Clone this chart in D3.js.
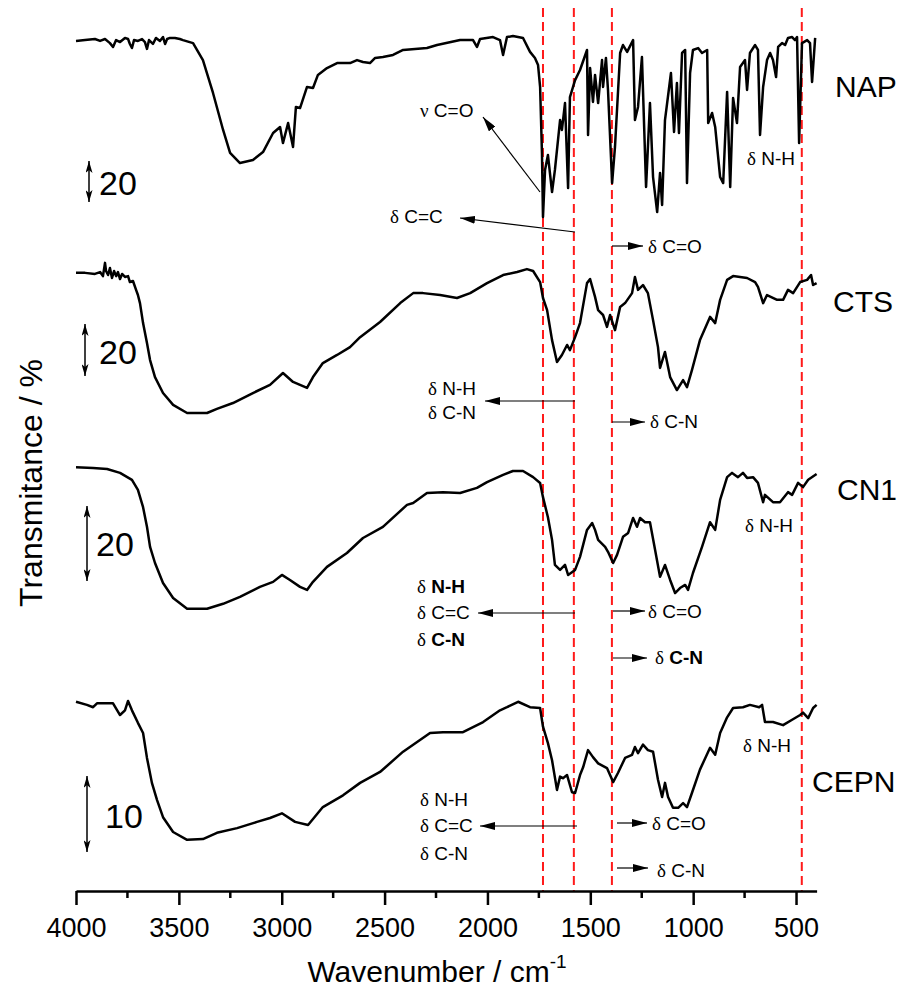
<!DOCTYPE html>
<html>
<head>
<meta charset="utf-8">
<script src="https://cdn.jsdelivr.net/npm/d3@7"></script>
<style>
  body { margin: 0; background: #fff; }
  svg text { font-family: "Liberation Sans", Arial, sans-serif; fill: #000; }
  .greek { font-family: "Liberation Serif", "Times New Roman", serif; }
</style>
</head>
<body>
<svg id="chart" width="905" height="992"></svg>
<script>
// FTIR spectra, [wavenumber cm-1, transmittance %]
const NAP = [
  [4000,87.0],[3956,87.4],[3908,87.9],[3883,87.0],[3859,87.9],[3835,86.0],[3820,84.2],[3805,87.4],
  [3786,86.5],[3762,88.4],[3747,87.9],[3738,85.6],[3728,83.7],[3718,87.4],[3699,87.0],[3679,87.9],
  [3665,86.5],[3655,83.3],[3645,87.4],[3626,85.6],[3611,88.4],[3592,87.0],[3577,88.8],[3567,85.6],
  [3557,87.9],[3543,88.4],[3519,88.4],[3495,87.9],[3480,87.4],[3431,86.0],[3383,78.1],[3334,62.8],
  [3285,45.6],[3251,34.9],[3203,30.2],[3140,31.6],[3091,35.3],[3042,44.2],[3008,47.0],[2994,39.5],
  [2969,48.8],[2945,37.7],[2931,56.3],[2911,55.8],[2877,65.6],[2848,65.1],[2824,71.2],[2780,74.4],
  [2731,76.7],[2668,76.7],[2634,78.1],[2605,77.2],[2571,76.7],[2546,79.1],[2508,79.5],[2459,80.5],
  [2410,82.8],[2294,83.7],[2245,85.1],[2133,87.4],[2070,87.4],[2051,84.2],[2036,87.9],[1973,88.8],
  [1939,87.4],[1924,80.5],[1905,88.8],[1876,89.3],[1827,88.4],[1793,81.9],[1769,79.1],[1754,75.8],
  [1744,65.6],[1735,34.9],[1730,5.1],[1720,27.0],[1706,34.0],[1686,16.7],[1672,27.0],[1647,50.2],
  [1638,45.6],[1623,58.1],[1608,18.6],[1599,60.9],[1574,68.8],[1550,73.5],[1516,82.8],[1511,43.3],
  [1501,74.4],[1487,58.6],[1477,71.2],[1462,58.1],[1443,78.1],[1438,65.6],[1424,79.1],[1414,64.2],
  [1394,20.9],[1380,37.7],[1355,81.4],[1341,85.1],[1321,81.9],[1292,87.4],[1283,50.2],[1268,56.3],
  [1249,79.5],[1229,19.1],[1210,58.1],[1195,23.7],[1175,7.4],[1161,25.6],[1151,10.7],[1137,50.2],
  [1108,72.1],[1093,44.7],[1079,67.4],[1069,44.2],[1054,81.4],[1039,82.8],[1030,20.9],[1015,72.1],
  [1001,82.8],[976,83.7],[957,81.4],[932,82.8],[927,48.8],[908,53.5],[893,47.0],[869,23.7],
  [854,20.9],[835,63.3],[820,19.1],[806,60.5],[787,48.8],[772,74.9],[748,78.1],[738,64.2],
  [724,81.4],[699,85.1],[685,82.8],[675,43.3],[660,65.6],[641,78.1],[626,81.4],[612,78.1],
  [597,70.2],[587,84.2],[568,86.0],[553,85.1],[539,88.4],[519,88.8],[505,87.4],[495,88.8],
  [485,39.5],[471,86.0],[446,87.4],[432,86.0],[422,67.9],[407,88.4]
];

const CTS = [
  [4000,61.9],[3956,61.9],[3908,61.5],[3883,62.2],[3869,60.7],[3859,65.6],[3854,62.6],[3844,61.1],
  [3835,63.7],[3825,60.0],[3815,62.6],[3805,60.7],[3796,62.2],[3786,59.6],[3776,61.5],[3762,60.4],
  [3747,60.7],[3738,58.5],[3723,58.9],[3708,55.6],[3699,53.7],[3689,50.7],[3674,43.3],[3655,35.9],
  [3640,29.6],[3616,23.3],[3577,17.4],[3528,13.0],[3460,10.0],[3363,10.0],[3315,11.5],[3237,13.7],
  [3140,17.4],[3057,20.4],[2994,24.8],[2945,21.5],[2877,19.3],[2848,23.3],[2800,28.5],[2731,31.5],
  [2668,34.4],[2619,38.1],[2522,43.7],[2424,50.7],[2361,54.4],[2313,54.4],[2230,53.7],[2148,52.6],
  [2084,54.4],[2002,58.1],[1924,61.1],[1856,62.2],[1808,63.3],[1778,62.6],[1744,58.5],[1730,52.6],
  [1710,48.1],[1686,37.0],[1662,28.9],[1638,31.5],[1613,35.2],[1599,33.3],[1574,38.1],[1550,43.3],
  [1516,58.1],[1501,59.6],[1477,53.0],[1462,48.1],[1438,46.3],[1419,41.9],[1404,46.3],[1380,40.7],
  [1355,49.3],[1331,50.7],[1297,54.4],[1283,60.4],[1268,55.6],[1244,57.4],[1220,54.4],[1195,44.4],
  [1171,34.4],[1161,26.7],[1137,32.6],[1112,23.3],[1079,18.5],[1049,22.2],[1030,19.6],[1006,25.9],
  [967,37.0],[918,45.6],[893,43.3],[869,51.9],[835,59.3],[806,60.7],[738,60.0],[699,58.5],
  [685,56.7],[660,50.7],[641,53.7],[592,51.9],[563,51.9],[539,55.6],[514,54.4],[480,58.5],
  [446,59.3],[427,61.1],[417,57.4],[400,58.1]
];

const CN1 = [
  [4000,44.9],[3917,44.7],[3849,44.4],[3786,43.4],[3728,41.6],[3699,39.0],[3674,34.5],[3655,29.4],
  [3640,24.2],[3616,20.0],[3577,14.8],[3528,10.9],[3460,8.1],[3363,8.1],[3285,9.4],[3203,11.2],
  [3106,13.8],[3042,15.1],[2999,16.9],[2960,15.6],[2911,13.8],[2877,13.0],[2848,15.1],[2780,19.0],
  [2683,22.6],[2605,26.5],[2508,29.4],[2391,35.1],[2361,35.6],[2294,38.2],[2216,38.4],[2133,38.2],
  [2051,39.5],[2002,41.0],[1924,42.9],[1876,43.9],[1827,43.9],[1778,42.3],[1744,40.8],[1730,37.1],
  [1706,31.9],[1686,26.0],[1672,19.5],[1647,18.2],[1623,19.5],[1608,16.9],[1574,18.2],[1550,21.6],
  [1516,28.6],[1491,30.4],[1477,28.6],[1462,26.0],[1428,24.2],[1414,22.9],[1389,20.0],[1370,22.1],
  [1341,26.8],[1316,27.8],[1292,31.7],[1273,29.4],[1258,31.7],[1234,30.6],[1210,30.6],[1185,23.4],
  [1161,16.4],[1137,19.5],[1112,15.6],[1088,12.2],[1064,13.5],[1039,14.3],[1025,13.0],[1001,17.4],
  [957,24.2],[918,30.6],[893,28.6],[869,36.4],[835,42.3],[811,43.4],[782,42.3],[758,43.4],
  [738,42.1],[709,42.3],[685,40.8],[660,35.8],[651,37.7],[612,35.8],[578,35.8],[539,38.4],
  [519,37.7],[490,40.8],[466,39.7],[441,41.6],[400,43.1]
];

const CEPN = [
  [4000,20.8],[3947,20.4],[3917,20.1],[3898,20.6],[3869,20.6],[3820,20.6],[3786,19.1],[3762,19.7],
  [3747,20.9],[3728,19.7],[3699,18.1],[3674,16.8],[3655,13.6],[3631,10.4],[3606,8.2],[3577,6.0],
  [3528,4.1],[3460,3.1],[3383,3.2],[3315,4.0],[3217,4.6],[3120,5.4],[3057,5.9],[2999,6.5],
  [2935,5.4],[2872,5.0],[2800,7.3],[2702,8.8],[2619,10.4],[2522,11.8],[2410,14.4],[2279,16.8],
  [2216,16.9],[2119,16.9],[2021,18.2],[1939,19.7],[1905,20.1],[1851,20.8],[1793,20.1],[1744,20.0],
  [1730,17.6],[1706,15.5],[1686,13.3],[1662,9.5],[1647,11.2],[1633,11.0],[1613,11.4],[1589,9.2],
  [1574,9.1],[1550,11.4],[1535,12.4],[1511,14.6],[1487,13.7],[1462,12.9],[1419,12.3],[1389,10.5],
  [1365,11.7],[1331,13.6],[1297,14.0],[1283,15.0],[1268,14.2],[1244,15.3],[1220,14.6],[1195,14.4],
  [1171,10.8],[1151,8.6],[1137,10.4],[1122,8.6],[1098,7.2],[1073,7.2],[1049,7.8],[1030,7.3],
  [1006,9.1],[967,12.1],[918,14.9],[893,14.0],[869,16.8],[835,18.8],[806,20.0],[758,20.1],
  [724,20.4],[679,20.1],[665,20.4],[651,18.2],[612,18.2],[563,17.8],[519,18.5],[480,19.1],
  [466,19.4],[441,18.7],[417,20.0],[400,20.4]
];

const sampleNames = ["NAP", "CTS", "CN1", "CEPN"];
const scaleBarValues = [20, 20, 20, 10];
const bandMarkers = [1730, 1580, 1395, 472];   // red dashed guide lines, cm-1
const majorTicks = [4000, 3500, 3000, 2500, 2000, 1500, 1000, 500];
const minorTicks = [3750, 3250, 2750, 2250, 1750, 1250, 750];

const W = 905, H = 992;
const axisY = 891;

const svg = d3.select("#chart");

const defs = svg.append("defs");
defs.append("marker")
  .attr("id", "head")
  .attr("markerUnits", "userSpaceOnUse")
  .attr("viewBox", "0 0 15 8")
  .attr("refX", 15).attr("refY", 4)
  .attr("markerWidth", 15).attr("markerHeight", 8)
  .attr("orient", "auto")
  .append("path").attr("d", "M0,0 L15,4 L0,8 Z").attr("fill", "#000");
defs.append("marker")
  .attr("id", "barhead")
  .attr("markerUnits", "userSpaceOnUse")
  .attr("viewBox", "0 0 12 7")
  .attr("refX", 12).attr("refY", 3.5)
  .attr("markerWidth", 12).attr("markerHeight", 7)
  .attr("orient", "auto-start-reverse")
  .append("path").attr("d", "M0,0 L12,3.5 L0,7 L3,3.5 Z").attr("fill", "#000");

const x = d3.scaleLinear().domain([4000, 400]).range([76, 816.6]);

// each spectrum gets its own vertical band (base = pixel of 0 %, px per % unit)
const panels = [
  { data: NAP, base: 228, k: 2.15, barX: 89, barY: 181.5, barLabel: [99, 195], label: [835, 97] },
  { data: CTS, base: 440, k: 2.7,  barX: 85, barY: 350,   barLabel: [99, 364], label: [833, 312] },
  { data: CN1, base: 640, k: 3.85, barX: 87, barY: 543.5, barLabel: [96, 556], label: [837, 500] },
  { data: CEPN, base: 864, k: 7.8, barX: 87, barY: 814,   barLabel: [105, 828], label: [812, 792] }
];

// dashed guide lines
svg.append("g")
  .selectAll("line")
  .data(bandMarkers)
  .join("line")
  .attr("x1", d => x(d)).attr("x2", d => x(d))
  .attr("y1", 8).attr("y2", axisY)
  .attr("stroke", "#ff1a1a")
  .attr("stroke-width", 2)
  .attr("stroke-dasharray", "9,5");

panels.forEach((p, i) => {
  const y = d3.scaleLinear().domain([0, 100]).range([p.base, p.base - 100 * p.k]);
  const line = d3.line().x(d => x(d[0])).y(d => y(d[1]));

  svg.append("path")
    .datum(p.data)
    .attr("d", line)
    .attr("fill", "none")
    .attr("stroke", "#000")
    .attr("stroke-width", 2.5)
    .attr("stroke-linejoin", "round");

  // scale bar
  const len = y(0) - y(scaleBarValues[i]);
  svg.append("line")
    .attr("x1", p.barX).attr("x2", p.barX)
    .attr("y1", p.barY - len / 2 + 1).attr("y2", p.barY + len / 2 - 1)
    .attr("stroke", "#000").attr("stroke-width", 1.5)
    .attr("marker-start", "url(#barhead)")
    .attr("marker-end", "url(#barhead)");
  svg.append("text")
    .attr("x", p.barLabel[0]).attr("y", p.barLabel[1])
    .attr("font-size", 34)
    .text(scaleBarValues[i]);

  svg.append("text")
    .attr("x", p.label[0]).attr("y", p.label[1])
    .attr("font-size", 30)
    .text(sampleNames[i]);
});

// band assignments
const notes = [
  { x: 420, y: 117, t: "ν C=O" },
  { x: 390, y: 223, t: "δ C=C" },
  { x: 648, y: 253, t: "δ C=O" },
  { x: 747, y: 165, t: "δ N-H" },
  { x: 428, y: 395, t: "δ N-H" },
  { x: 428, y: 419, t: "δ C-N" },
  { x: 650, y: 428, t: "δ C-N" },
  { x: 417, y: 593, t: "δ N-H", bold: true },
  { x: 417, y: 619, t: "δ C=C" },
  { x: 417, y: 646, t: "δ C-N", bold: true },
  { x: 648, y: 618, t: "δ C=O" },
  { x: 655, y: 664, t: "δ C-N", bold: true },
  { x: 745, y: 532, t: "δ N-H" },
  { x: 420, y: 806, t: "δ N-H" },
  { x: 420, y: 832, t: "δ C=C" },
  { x: 420, y: 860, t: "δ C-N" },
  { x: 652, y: 830, t: "δ C=O" },
  { x: 657, y: 877, t: "δ C-N" },
  { x: 743, y: 752, t: "δ N-H" }
];
const arrows = [
  [540, 192, 483, 117],
  [575, 232, 460, 218],
  [612, 246, 643, 246],
  [575, 401, 485, 401],
  [612, 422, 645, 422],
  [575, 613, 478, 613],
  [613, 611, 645, 611],
  [613, 658, 647, 658],
  [577, 826, 480, 826],
  [617, 823, 647, 823],
  [617, 868, 648, 868]
];

const noteG = svg.append("g");
notes.forEach(n => {
  const t = noteG.append("text").attr("x", n.x).attr("y", n.y).attr("font-size", 19);
  t.append("tspan").attr("class", "greek").text(n.t[0]);
  t.append("tspan").attr("font-weight", n.bold ? "bold" : null).text(" " + n.t.slice(2));
});
noteG.selectAll("line")
  .data(arrows)
  .join("line")
  .attr("x1", d => d[0]).attr("y1", d => d[1])
  .attr("x2", d => d[2]).attr("y2", d => d[3])
  .attr("stroke", "#000").attr("stroke-width", 1.2)
  .attr("marker-end", "url(#head)");

// x axis
const axisG = svg.append("g").attr("transform", `translate(0,${axisY})`);
axisG.call(d3.axisBottom(x).tickValues(majorTicks).tickFormat(d3.format("d"))
    .tickSize(14).tickSizeOuter(0).tickPadding(13))
  .call(g => g.select(".domain").attr("stroke-width", 2.5))
  .call(g => g.selectAll(".tick line").attr("stroke-width", 2.5))
  .call(g => g.selectAll(".tick text").attr("font-size", 27)
      .attr("font-family", "Liberation Sans, Arial, sans-serif"));
axisG.selectAll(".minor")
  .data(minorTicks)
  .join("line")
  .attr("class", "minor")
  .attr("x1", d => x(d)).attr("x2", d => x(d))
  .attr("y1", 0).attr("y2", 7)
  .attr("stroke", "#000").attr("stroke-width", 2.5);

const xt = svg.append("text")
  .attr("x", 437).attr("y", 982)
  .attr("text-anchor", "middle")
  .attr("font-size", 30);
xt.append("tspan").text("Wavenumber / cm");
xt.append("tspan").attr("font-size", 19).attr("dy", -14).text("-1");

svg.append("text")
  .attr("transform", "translate(42,483) rotate(-90)")
  .attr("text-anchor", "middle")
  .attr("font-size", 32)
  .text("Transmitance / %");
</script>
</body>
</html>
